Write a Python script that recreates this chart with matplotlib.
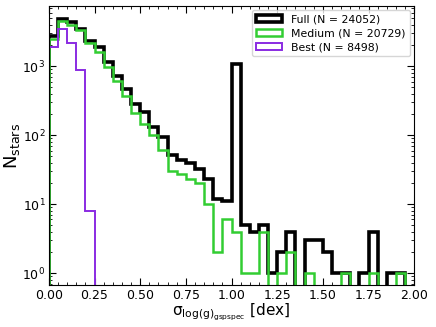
import numpy as np
import matplotlib.pyplot as plt

plt.rcParams["mathtext.default"] = "regular"

# === Data (counts per 0.05 dex bin) ===
bin_edges = np.linspace(0.0, 2.0, 41)
full_counts = [2700, 4800, 4400, 3500, 2350, 1898, 1150, 715, 475, 280,
               215, 132, 95, 52, 44, 40, 32, 23, 12, 11,
               1090, 5, 4, 5, 1, 2, 4, 0, 3, 3,
               2, 1, 1, 0, 1, 4, 0, 1, 1, 0]
medium_counts = [2500, 4550, 4000, 3300, 2150, 1620, 982, 605, 367, 213,
                 143, 102, 62, 30, 27, 23, 20, 10, 2, 6,
                 4, 1, 1, 4, 0, 1, 2, 0, 1, 0,
                 0, 0, 1, 0, 0, 1, 0, 0, 1, 0]
best_counts = [1900, 3500, 2200, 890, 8] + [0] * 35
labels = ["Full (N = 24052)", "Medium (N = 20729)", "Best (N = 8498)"]

centers = 0.5 * (bin_edges[:-1] + bin_edges[1:])

# === Plot ===
fig = plt.figure(figsize=(4.36, 3.27), dpi=100)
ax = fig.add_axes([0.112, 0.128, 0.838, 0.854])

ax.hist(centers, bins=bin_edges, weights=full_counts, histtype="step",
        color="black", lw=2.6, label=labels[0], log=True)
ax.hist(centers, bins=bin_edges, weights=medium_counts, histtype="step",
        color="limegreen", lw=1.8, label=labels[1], log=True)
ax.hist(centers, bins=bin_edges, weights=best_counts, histtype="step",
        color="blueviolet", lw=1.4, label=labels[2], log=True)

ax.set_xlim(0, 2.0)
ax.set_ylim(0.67, 7500)
ax.set_xticks(np.arange(0, 2.01, 0.25))
ax.set_xticks(np.arange(0, 2.01, 0.05), minor=True)
ax.tick_params(which="both", direction="in", top=True, right=True, labelsize=9)
ax.tick_params(which="major", length=5, pad=2.5)
ax.tick_params(which="minor", length=2.5)

ax.set_xlabel(r"$\sigma_{log(g)_{gspspec}}$ [dex]", fontsize=11, labelpad=0)
ax.set_ylabel(r"$N_{stars}$", fontsize=13, labelpad=0)

ax.legend(loc="upper right", fontsize=7.8, handlelength=2.4, handleheight=0.6,
          borderaxespad=0.4, labelspacing=0.35)

plt.savefig("out.png")
